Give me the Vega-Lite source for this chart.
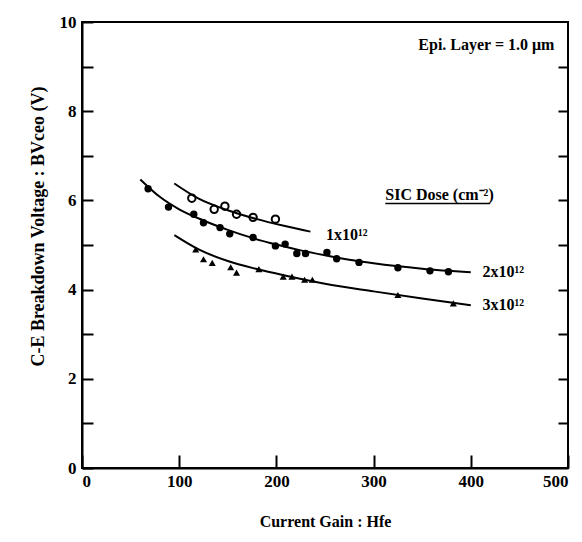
{
  "$schema": "https://vega.github.io/schema/vega-lite/v6.json",
  "width": 486,
  "height": 446,
  "autosize": {"type": "none"},
  "padding": {"left": 82, "top": 22, "right": 14, "bottom": 74},
  "background": "white",
  "config": {
    "view": {"stroke": "black", "strokeWidth": 2},
    "font": "Liberation Serif",
    "axis": {
      "domainColor": "black", "domainWidth": 2, "tickColor": "black", "tickWidth": 2,
      "grid": false, "labelColor": "black", "titleColor": "black",
      "labelFont": "Liberation Serif", "titleFont": "Liberation Serif",
      "labelFontSize": 17, "labelFontWeight": "bold", "titleFontSize": 16, "titleFontWeight": "bold"
    }
  },
  "datasets": {
    "points": [
      {"series": "1x10^12", "hfe": 113, "bv": 6.05},
      {"series": "1x10^12", "hfe": 136, "bv": 5.80},
      {"series": "1x10^12", "hfe": 147, "bv": 5.87},
      {"series": "1x10^12", "hfe": 159, "bv": 5.69},
      {"series": "1x10^12", "hfe": 176, "bv": 5.62},
      {"series": "1x10^12", "hfe": 199, "bv": 5.58},
      {"series": "2x10^12", "hfe": 68, "bv": 6.26},
      {"series": "2x10^12", "hfe": 89, "bv": 5.85},
      {"series": "2x10^12", "hfe": 115, "bv": 5.69},
      {"series": "2x10^12", "hfe": 125, "bv": 5.50},
      {"series": "2x10^12", "hfe": 142, "bv": 5.39},
      {"series": "2x10^12", "hfe": 152, "bv": 5.25},
      {"series": "2x10^12", "hfe": 176, "bv": 5.17},
      {"series": "2x10^12", "hfe": 199, "bv": 4.98},
      {"series": "2x10^12", "hfe": 209, "bv": 5.02},
      {"series": "2x10^12", "hfe": 221, "bv": 4.81},
      {"series": "2x10^12", "hfe": 230, "bv": 4.81},
      {"series": "2x10^12", "hfe": 252, "bv": 4.83},
      {"series": "2x10^12", "hfe": 262, "bv": 4.69},
      {"series": "2x10^12", "hfe": 285, "bv": 4.61},
      {"series": "2x10^12", "hfe": 325, "bv": 4.49},
      {"series": "2x10^12", "hfe": 358, "bv": 4.42},
      {"series": "2x10^12", "hfe": 377, "bv": 4.40},
      {"series": "3x10^12", "hfe": 117, "bv": 4.90},
      {"series": "3x10^12", "hfe": 125, "bv": 4.68},
      {"series": "3x10^12", "hfe": 134, "bv": 4.60},
      {"series": "3x10^12", "hfe": 153, "bv": 4.50},
      {"series": "3x10^12", "hfe": 159, "bv": 4.38},
      {"series": "3x10^12", "hfe": 182, "bv": 4.46},
      {"series": "3x10^12", "hfe": 207, "bv": 4.29},
      {"series": "3x10^12", "hfe": 216, "bv": 4.29},
      {"series": "3x10^12", "hfe": 229, "bv": 4.22},
      {"series": "3x10^12", "hfe": 237, "bv": 4.22},
      {"series": "3x10^12", "hfe": 325, "bv": 3.88},
      {"series": "3x10^12", "hfe": 382, "bv": 3.69}
    ],
    "curves": [
      {"series": "1x10^12", "hfe": 95, "bv": 6.38},
      {"series": "1x10^12", "hfe": 120, "bv": 6.04},
      {"series": "1x10^12", "hfe": 150, "bv": 5.78},
      {"series": "1x10^12", "hfe": 180, "bv": 5.58},
      {"series": "1x10^12", "hfe": 210, "bv": 5.42},
      {"series": "1x10^12", "hfe": 235, "bv": 5.30},
      {"series": "2x10^12", "hfe": 60, "bv": 6.47},
      {"series": "2x10^12", "hfe": 80, "bv": 6.08},
      {"series": "2x10^12", "hfe": 100, "bv": 5.80},
      {"series": "2x10^12", "hfe": 125, "bv": 5.55},
      {"series": "2x10^12", "hfe": 150, "bv": 5.34},
      {"series": "2x10^12", "hfe": 175, "bv": 5.16},
      {"series": "2x10^12", "hfe": 200, "bv": 5.01},
      {"series": "2x10^12", "hfe": 225, "bv": 4.88},
      {"series": "2x10^12", "hfe": 250, "bv": 4.77},
      {"series": "2x10^12", "hfe": 275, "bv": 4.67},
      {"series": "2x10^12", "hfe": 300, "bv": 4.59},
      {"series": "2x10^12", "hfe": 350, "bv": 4.47},
      {"series": "2x10^12", "hfe": 400, "bv": 4.39},
      {"series": "3x10^12", "hfe": 95, "bv": 5.22},
      {"series": "3x10^12", "hfe": 120, "bv": 4.90},
      {"series": "3x10^12", "hfe": 150, "bv": 4.64},
      {"series": "3x10^12", "hfe": 180, "bv": 4.46},
      {"series": "3x10^12", "hfe": 210, "bv": 4.31},
      {"series": "3x10^12", "hfe": 250, "bv": 4.13},
      {"series": "3x10^12", "hfe": 300, "bv": 3.96},
      {"series": "3x10^12", "hfe": 350, "bv": 3.80},
      {"series": "3x10^12", "hfe": 400, "bv": 3.65}
    ],
    "labels": [
      {"text": "Epi. Layer = 1.0 μm", "hfe": 346, "bv": 9.48},
      {"text": "SIC Dose (cm⁻²)", "hfe": 312, "bv": 6.12},
      {"text": "1x10¹²", "hfe": 251, "bv": 5.22},
      {"text": "2x10¹²", "hfe": 412, "bv": 4.39},
      {"text": "3x10¹²", "hfe": 412, "bv": 3.65}
    ],
    "underline": [
      {"hfe": 312, "hfe2": 420, "bv": 5.93}
    ]
  },
  "layer": [
    {
      "data": {"name": "curves"},
      "mark": {"type": "line", "color": "black", "strokeWidth": 2, "interpolate": "monotone"},
      "encoding": {
        "x": {"field": "hfe", "type": "quantitative", "scale": {"domain": [0, 500], "nice": false},
          "axis": {"title": "Current Gain : Hfe", "values": [0, 100, 200, 300, 400, 500], "tickSize": -13, "labelPadding": 18, "titlePadding": 24}},
        "y": {"field": "bv", "type": "quantitative", "scale": {"domain": [0, 10], "nice": false},
          "axis": {"title": "C-E Breakdown Voltage : BVceo (V)", "values": [0, 1, 2, 3, 4, 5, 6, 7, 8, 9, 10], "labelExpr": "datum.value % 2 == 0 ? datum.label : ''", "tickSize": -11, "labelPadding": 17, "titlePadding": 12, "titleFontSize": 18, "titleY": 204}},
        "detail": {"field": "series"}
      }
    },
    {
      "data": {"name": "points"},
      "transform": [{"filter": "datum.series == '1x10^12'"}],
      "mark": {"type": "point", "shape": "circle", "filled": false, "color": "black", "strokeWidth": 2, "size": 55, "opacity": 1},
      "encoding": {
        "x": {"field": "hfe", "type": "quantitative"},
        "y": {"field": "bv", "type": "quantitative",
          "axis": {"orient": "right", "values": [1, 2, 3, 4, 5, 6, 7, 8, 9], "labels": false, "title": null, "tickSize": -10, "domain": false}}
      }
    },
    {
      "data": {"name": "points"},
      "transform": [{"filter": "datum.series == '2x10^12'"}],
      "mark": {"type": "point", "shape": "circle", "filled": true, "color": "black", "size": 55, "opacity": 1},
      "encoding": {
        "x": {"field": "hfe", "type": "quantitative"},
        "y": {"field": "bv", "type": "quantitative", "axis": null}
      }
    },
    {
      "data": {"name": "points"},
      "transform": [{"filter": "datum.series == '3x10^12'"}],
      "mark": {"type": "point", "shape": "triangle-up", "filled": true, "color": "black", "size": 50, "opacity": 1},
      "encoding": {
        "x": {"field": "hfe", "type": "quantitative"},
        "y": {"field": "bv", "type": "quantitative", "axis": null}
      }
    },
    {
      "data": {"name": "labels"},
      "mark": {"type": "text", "align": "left", "baseline": "middle", "font": "Liberation Serif", "fontSize": 16, "fontWeight": "bold", "color": "black"},
      "encoding": {
        "x": {"field": "hfe", "type": "quantitative"},
        "y": {"field": "bv", "type": "quantitative", "axis": null},
        "text": {"field": "text"}
      }
    },
    {
      "data": {"name": "underline"},
      "mark": {"type": "rule", "color": "black", "strokeWidth": 1.5},
      "encoding": {
        "x": {"field": "hfe", "type": "quantitative"},
        "x2": {"field": "hfe2"},
        "y": {"field": "bv", "type": "quantitative", "axis": null}
      }
    }
  ],
  "resolve": {"axis": {"y": "independent"}}
}
